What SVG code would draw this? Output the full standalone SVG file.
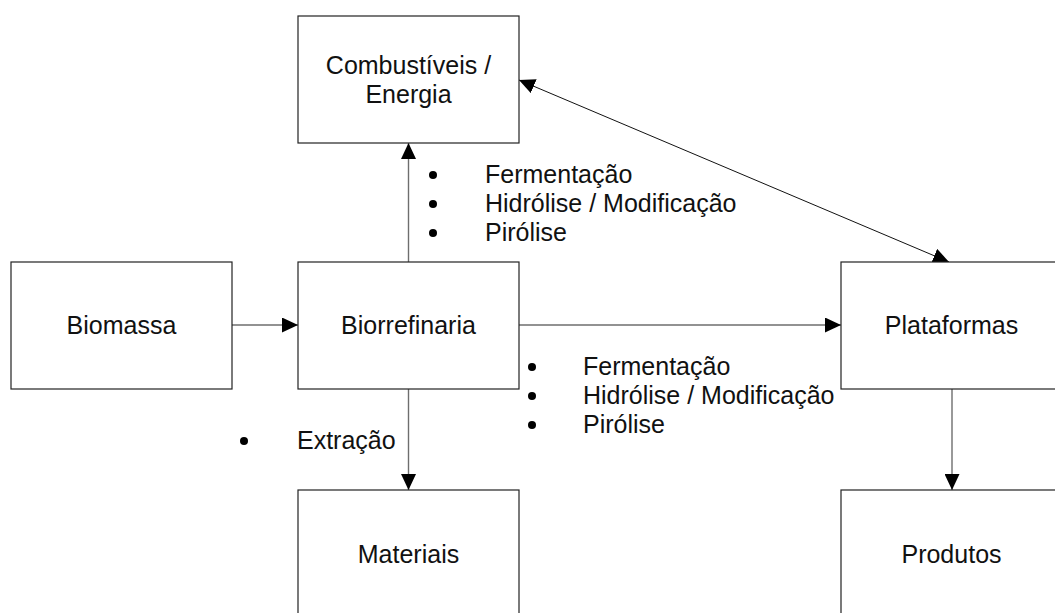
<svg xmlns="http://www.w3.org/2000/svg" width="1055" height="613" viewBox="0 0 1055 613">
  <defs>
    <marker id="arrow" markerUnits="userSpaceOnUse" markerWidth="16" markerHeight="15" refX="16" refY="7.5" orient="auto-start-reverse" viewBox="0 0 16 15">
      <path d="M0,0 L16,7.5 L0,15 Z" fill="#000"/>
    </marker>
    <style>
      .box { fill: #fff; stroke: #222; stroke-width: 1.2; }
      .label { font-family: "Liberation Sans", Arial, sans-serif; font-size: 25px; fill: #111; text-anchor: middle; }
      .item { font-family: "Liberation Sans", Arial, sans-serif; font-size: 25px; fill: #111; }
      .dot { fill: #000; }
      .conn { fill: none; stroke: #6e6e6e; stroke-width: 1.4; marker-end: url(#arrow); }
      .diag { fill: none; stroke: #111; stroke-width: 1; marker-start: url(#arrow); marker-end: url(#arrow); }
    </style>
  </defs>
  <rect width="1055" height="613" fill="#fff"/>

  <!-- connectors -->
  <g id="connectors">
    <line class="conn" x1="232" y1="325" x2="298" y2="325"/>
    <line class="conn" x1="519" y1="325" x2="841" y2="325"/>
    <line class="conn" x1="408.5" y1="262" x2="408.5" y2="143"/>
    <line class="conn" x1="408.5" y1="389" x2="408.5" y2="490"/>
    <line class="conn" x1="952" y1="389" x2="952" y2="490"/>
    <line class="diag" x1="519" y1="80" x2="949" y2="262"/>
  </g>

  <!-- nodes -->
  <g id="combustiveis">
    <rect class="box" x="298" y="16" width="221" height="127"/>
    <text class="label" x="408.5" y="74">Combustíveis /</text>
    <text class="label" x="408.5" y="103">Energia</text>
  </g>
  <g id="biomassa">
    <rect class="box" x="11" y="262" width="221" height="127"/>
    <text class="label" x="121.5" y="334">Biomassa</text>
  </g>
  <g id="biorrefinaria">
    <rect class="box" x="298" y="262" width="221" height="127"/>
    <text class="label" x="408.5" y="334">Biorrefinaria</text>
  </g>
  <g id="plataformas">
    <rect class="box" x="841" y="262" width="221" height="127"/>
    <text class="label" x="951.5" y="334">Plataformas</text>
  </g>
  <g id="materiais">
    <rect class="box" x="298" y="490" width="221" height="127"/>
    <text class="label" x="408.5" y="563">Materiais</text>
  </g>
  <g id="produtos">
    <rect class="box" x="841" y="490" width="221" height="127"/>
    <text class="label" x="951.5" y="563">Produtos</text>
  </g>

  <!-- process lists -->
  <g id="processos-energia">
    <circle class="dot" cx="433" cy="175" r="4"/>
    <circle class="dot" cx="433" cy="204" r="4"/>
    <circle class="dot" cx="433" cy="233" r="4"/>
    <text class="item" x="485" y="183">Fermentação</text>
    <text class="item" x="485" y="212">Hidrólise / Modificação</text>
    <text class="item" x="485" y="241">Pirólise</text>
  </g>
  <g id="processos-plataformas">
    <circle class="dot" cx="532" cy="367" r="4"/>
    <circle class="dot" cx="532" cy="396" r="4"/>
    <circle class="dot" cx="532" cy="425" r="4"/>
    <text class="item" x="583" y="375">Fermentação</text>
    <text class="item" x="583" y="404">Hidrólise / Modificação</text>
    <text class="item" x="583" y="433">Pirólise</text>
  </g>
  <g id="processos-materiais">
    <circle class="dot" cx="244" cy="441" r="4"/>
    <text class="item" x="297" y="449">Extração</text>
  </g>
</svg>
